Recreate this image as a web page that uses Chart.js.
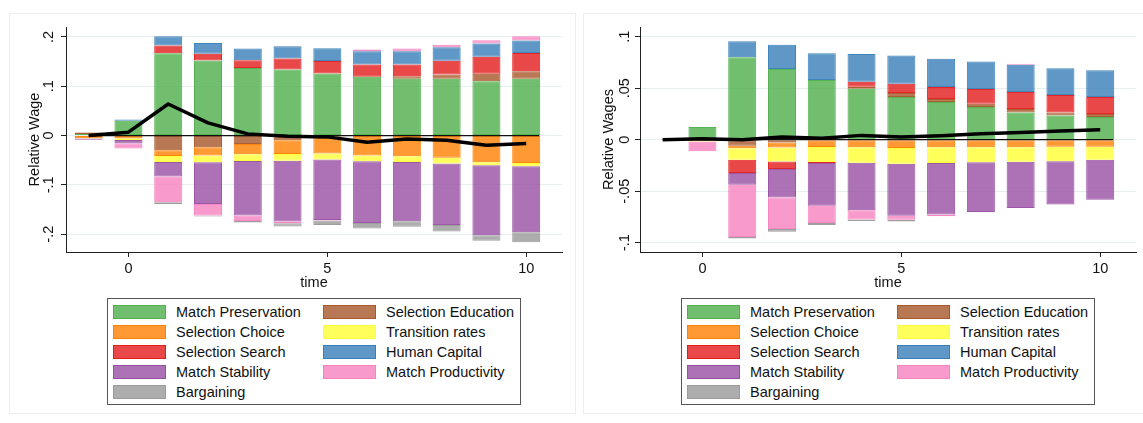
<!DOCTYPE html>
<html>
<head>
<meta charset="utf-8">
<script src="https://cdn.jsdelivr.net/npm/chart.js@4.4.1/dist/chart.umd.min.js"></script>
<style>
  html, body { margin: 0; padding: 0; background: #fff; }
  body { width: 1143px; height: 423px; position: relative; overflow: hidden;
         font-family: "Liberation Sans", Arial, sans-serif; }
  .frame { position: absolute; border: 1px solid #eceff0; box-sizing: border-box; }
  canvas { position: absolute; top: 0; }
  .legend { position: absolute; top: 298px; width: 414px; height: 107px;
            border: 1px solid #555; box-sizing: border-box; background: #fff; }
  .item { position: absolute; height: 20px; display: flex; align-items: center;
          font-size: 14.5px; color: #111; white-space: nowrap; }
  .sw { width: 53px; height: 14px; box-sizing: border-box; border: 1px solid; margin-right: 10px; }
</style>
</head>
<body>
<div class="frame" style="left:9px;top:13px;width:567px;height:401px;"></div>
<div class="frame" style="left:583px;top:13px;width:570px;height:401px;"></div>
<canvas id="wage" width="575" height="300" style="left:0px;"></canvas>
<canvas id="wages" width="569" height="300" style="left:574px;"></canvas>
<div class="legend" id="legendWage" style="left:107px;"></div>
<div class="legend" id="legendWages" style="left:681px;"></div>

<script>
// Periods relative to the event
const TIME = [-1, 0, 1, 2, 3, 4, 5, 6, 7, 8, 9, 10];

// Decomposition components, in stacking order
const SERIES = [
  'Match Preservation', 'Selection Education', 'Selection Choice', 'Transition rates',
  'Selection Search', 'Human Capital', 'Match Stability', 'Match Productivity', 'Bargaining'
];

// Relative wage decomposition
const WAGE_MATCH_PRESERVATION  = [0.003, 0.030, 0.167, 0.152, 0.137, 0.134, 0.126, 0.119, 0.115, 0.115, 0.110, 0.115];
const WAGE_SELECTION_EDUCATION = [0.003, null, -0.030, -0.0236, -0.017, -0.0095, -0.002, null, 0.0054, 0.0088, 0.0155, 0.0155];
const WAGE_SELECTION_CHOICE    = [-0.0055, -0.006, -0.0115, -0.017, -0.021, -0.028, -0.0345, -0.0405, -0.042, -0.045, -0.054, -0.0554];
const WAGE_TRANSITION_RATES    = [-0.0005, -0.003, -0.012, -0.0135, -0.0135, -0.0135, -0.012, -0.0115, -0.0115, -0.0115, -0.006, -0.0068];
const WAGE_SELECTION_SEARCH    = [null, null, 0.0155, 0.014, 0.0155, 0.022, 0.025, 0.025, 0.0236, 0.028, 0.034, 0.037];
const WAGE_HUMAN_CAPITAL       = [null, 0.0027, 0.019, 0.0216, 0.024, 0.025, 0.0257, 0.027, 0.027, 0.027, 0.027, 0.025];
const WAGE_MATCH_STABILITY     = [-0.0025, -0.007, -0.0295, -0.0844, -0.1105, -0.1234, -0.1225, -0.125, -0.120, -0.125, -0.142, -0.134];
const WAGE_MATCH_PRODUCTIVITY  = [0.0008, -0.010, -0.052, -0.0235, -0.011, -0.0033, -0.001, 0.0034, 0.0054, 0.0054, 0.0068, 0.0088];
const WAGE_BARGAINING          = [null, null, -0.004, -0.002, -0.003, -0.0068, -0.0095, -0.0115, -0.0115, -0.013, -0.011, -0.020];
const WAGE_TOTAL               = [0.0, 0.0068, 0.064, 0.0257, 0.0034, -0.0014, -0.0027, -0.0135, -0.0068, -0.0095, -0.0196, -0.0162];

// Relative wages decomposition
const WAGES_MATCH_PRESERVATION  = [null, 0.0123, 0.080, 0.0686, 0.058, 0.0495, 0.0414, 0.0366, 0.0317, 0.0265, 0.0236, 0.022];
const WAGES_SELECTION_EDUCATION = [null, null, -0.0058, -0.0026, null, 0.0019, 0.0039, 0.0029, 0.0032, 0.0032, 0.0029, 0.0029];
const WAGES_SELECTION_CHOICE    = [null, -0.0012, -0.0026, -0.0049, -0.0071, -0.0074, -0.0081, -0.0074, -0.0074, -0.0074, -0.0068, -0.0068];
const WAGES_TRANSITION_RATES    = [null, -0.0005, -0.011, -0.0136, -0.0146, -0.015, -0.0152, -0.0152, -0.0146, -0.0139, -0.0142, -0.0126];
const WAGES_SELECTION_SEARCH    = [null, null, -0.013, -0.0074, -0.001, 0.0049, 0.009, 0.0117, 0.0142, 0.0165, 0.0168, 0.0165];
const WAGES_HUMAN_CAPITAL       = [null, null, 0.0155, 0.0236, 0.026, 0.0269, 0.0275, 0.0275, 0.0269, 0.0265, 0.026, 0.0259];
const WAGES_MATCH_STABILITY     = [null, null, -0.0113, -0.0275, -0.0414, -0.046, -0.0505, -0.050, -0.0482, -0.045, -0.042, -0.0388];
const WAGES_MATCH_PRODUCTIVITY  = [null, -0.0096, -0.0508, -0.0307, -0.0168, -0.009, -0.0039, -0.0016, null, 0.001, null, null];
const WAGES_BARGAINING          = [null, null, -0.0013, -0.0026, -0.002, -0.0016, -0.0016, null, null, null, null, null];
const WAGES_TOTAL               = [0.0, 0.001, 0.0, 0.0026, 0.0013, 0.0042, 0.0026, 0.0039, 0.0058, 0.0071, 0.0084, 0.0097];

// Reference line at zero
const ZERO_LINE_TIME = [-1, 10.33];

// Axis ticks
const X_TICKS = [0, 5, 10];
const WAGE_Y_TICKS = [-0.2, -0.1, 0, 0.1, 0.2];
const WAGE_Y_LABELS = ['-.2', '-.1', '0', '.1', '.2'];
const WAGES_Y_TICKS = [-0.1, -0.05, 0, 0.05, 0.1];
const WAGES_Y_LABELS = ['-.1', '-.05', '0', '.05', '.1'];

// ColorBrewer Set1
const PALETTE = ['#4DAF4A', '#A65628', '#FF7F00', '#FFFF33', '#E41A1C', '#377EB8', '#984EA3', '#F781BF', '#999999'];

const FONT = { family: '"Liberation Sans", Arial, sans-serif', size: 14.5 };
const TEXT = '#111';

function rgba(hex, a) {
  const n = parseInt(hex.slice(1), 16);
  return `rgba(${(n >> 16) & 255},${(n >> 8) & 255},${n & 255},${a})`;
}

// Vertical (rotated) y tick labels, as drawn by Stata
const rotatedYLabels = {
  id: 'rotatedYLabels',
  afterDraw(chart, args, opts) {
    const s = chart.scales.y, ctx = chart.ctx;
    ctx.save();
    ctx.font = `${FONT.size}px ${FONT.family}`;
    ctx.fillStyle = TEXT;
    ctx.textAlign = 'center';
    ctx.textBaseline = 'middle';
    opts.values.forEach((v, i) => {
      ctx.save();
      ctx.translate(s.right - opts.gap, s.getPixelForValue(v));
      ctx.rotate(-Math.PI / 2);
      ctx.fillText(opts.labels[i], 0, 0);
      ctx.restore();
    });
    ctx.restore();
  }
};

function buildChart(id, components, total, yMin, yMax, yTicks, yLabels, yTitle, rightPad, labelGap) {
  const datasets = SERIES.map((name, i) => ({
    type: 'bar',
    label: name,
    data: TIME.map((t, j) => ({ x: t, y: components[i][j] })),
    backgroundColor: rgba(PALETTE[i], 0.8),
    borderColor: rgba(PALETTE[i], 0.95),
    borderWidth: 1,
    borderSkipped: false,
    categoryPercentage: 1,
    barPercentage: 0.705,
    order: 1
  }));
  datasets.push({
    type: 'line', label: 'zero',
    data: ZERO_LINE_TIME.map(t => ({ x: t, y: 0 })),
    borderColor: '#111', borderWidth: 1.3, pointRadius: 0, stack: 'zero', order: 0
  });
  datasets.push({
    type: 'line', label: 'total',
    data: TIME.map((t, j) => ({ x: t, y: total[j] })),
    borderColor: '#000', borderWidth: 3.5, pointRadius: 0, tension: 0,
    borderJoinStyle: 'round', stack: 'total', order: -1
  });

  return new Chart(document.getElementById(id), {
    type: 'bar',
    data: { datasets },
    plugins: [rotatedYLabels],
    options: {
      responsive: false,
      animation: false,
      devicePixelRatio: 1,
      events: [],
      layout: { padding: { left: 0, top: 27, right: rightPad, bottom: 0 } },
      plugins: {
        legend: { display: false },
        tooltip: { enabled: false },
        rotatedYLabels: { values: yTicks, labels: yLabels, gap: labelGap }
      },
      scales: {
        x: {
          type: 'linear', min: -1.57, max: 10.9, offset: false, stacked: true,
          afterBuildTicks: s => { s.ticks = X_TICKS.map(v => ({ value: v })); },
          afterFit: s => { s.height = 48; },
          ticks: { font: FONT, color: TEXT, padding: 3.3, maxRotation: 0, autoSkip: false,
                   callback: v => String(v) },
          grid: { display: true, drawOnChartArea: false, drawTicks: true, tickLength: 5,
                  tickColor: '#222', offset: false },
          border: { display: true, color: '#222', width: 1 },
          title: { display: true, text: 'time', font: FONT, color: TEXT,
                   padding: { top: 0, bottom: 8.3 } }
        },
        y: {
          type: 'linear', min: yMin, max: yMax, stacked: true,
          afterBuildTicks: s => { s.ticks = yTicks.map(v => ({ value: v })); },
          afterFit: s => { s.width = 66; },
          ticks: { display: false },
          grid: { color: '#e6eef0', lineWidth: 1, drawTicks: true, tickLength: 5, tickColor: '#222' },
          border: { display: true, color: '#222', width: 1 },
          title: { display: true, text: yTitle, font: FONT, color: TEXT,
                   padding: { top: 26.3, bottom: 0 } }
        }
      }
    }
  });
}

function buildLegend(id) {
  const box = document.getElementById(id);
  SERIES.forEach((name, i) => {
    const row = Math.floor(i / 2), col = i % 2;
    const item = document.createElement('div');
    item.className = 'item';
    item.style.left = (col === 0 ? 5 : 215) + 'px';
    item.style.top = (3 + 20 * row) + 'px';
    const sw = document.createElement('div');
    sw.className = 'sw';
    sw.style.background = rgba(PALETTE[i], 0.8);
    sw.style.borderColor = rgba(PALETTE[i], 0.95);
    item.appendChild(sw);
    item.appendChild(document.createTextNode(name));
    box.appendChild(item);
  });
}

buildChart('wage',
  [WAGE_MATCH_PRESERVATION, WAGE_SELECTION_EDUCATION, WAGE_SELECTION_CHOICE, WAGE_TRANSITION_RATES,
   WAGE_SELECTION_SEARCH, WAGE_HUMAN_CAPITAL, WAGE_MATCH_STABILITY, WAGE_MATCH_PRODUCTIVITY, WAGE_BARGAINING],
  WAGE_TOTAL, -0.236, 0.22, WAGE_Y_TICKS, WAGE_Y_LABELS, 'Relative Wage', 13, 17);

buildChart('wages',
  [WAGES_MATCH_PRESERVATION, WAGES_SELECTION_EDUCATION, WAGES_SELECTION_CHOICE, WAGES_TRANSITION_RATES,
   WAGES_SELECTION_SEARCH, WAGES_HUMAN_CAPITAL, WAGES_MATCH_STABILITY, WAGES_MATCH_PRODUCTIVITY, WAGES_BARGAINING],
  WAGES_TOTAL, -0.109, 0.1094, WAGES_Y_TICKS, WAGES_Y_LABELS, 'Relative Wages', 7, 15);

buildLegend('legendWage');
buildLegend('legendWages');
</script>
</body>
</html>
